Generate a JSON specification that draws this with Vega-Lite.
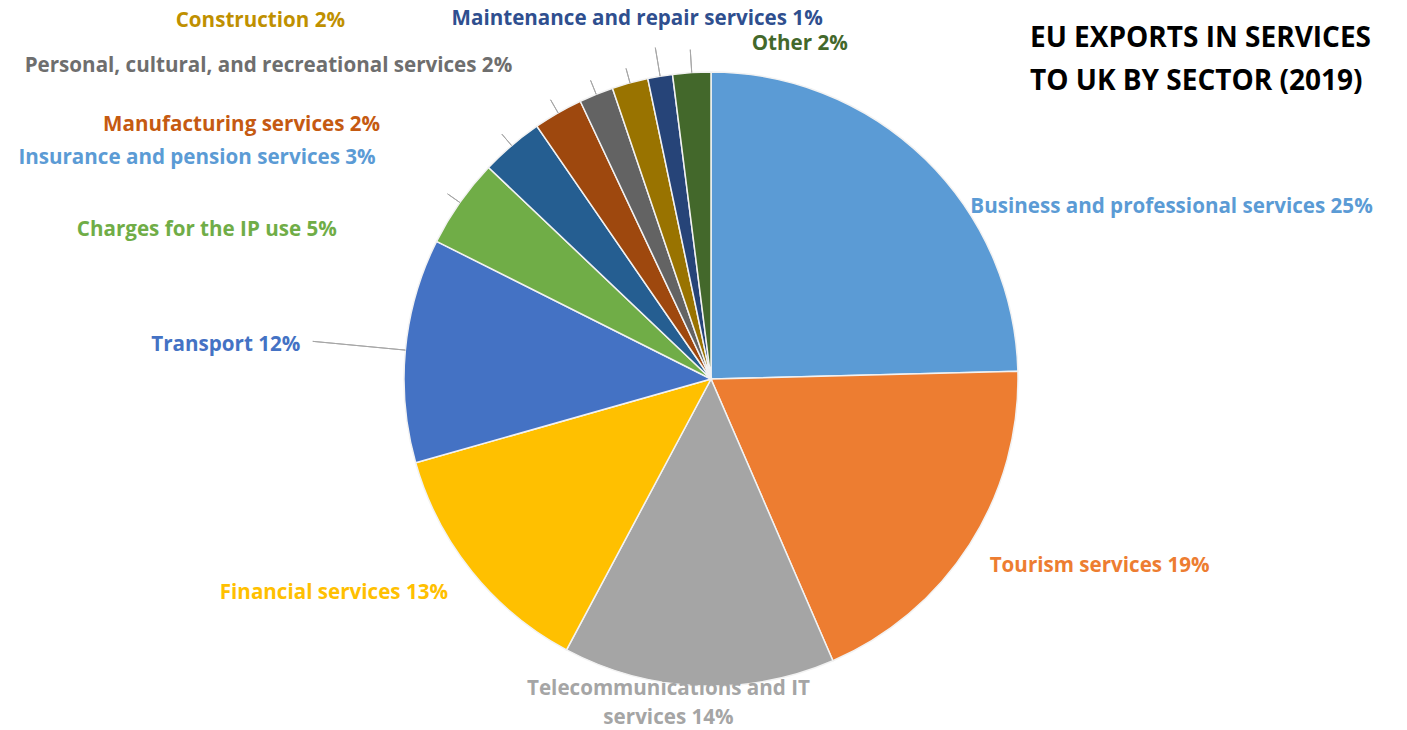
{
  "$schema": "https://vega.github.io/schema/vega-lite/v6.json",
  "width": 1422,
  "height": 758,
  "autosize": "none",
  "padding": 0,
  "background": "white",
  "config": {"view": {"stroke": null}},
  "title": {
    "text": ["EU EXPORTS IN SERVICES", "TO UK BY SECTOR (2019)"],
    "anchor": "start",
    "align": "left",
    "baseline": "top",
    "font": "Open Sans",
    "fontSize": 28,
    "fontWeight": "bold",
    "color": "#000000",
    "lineHeight": 43,
    "offset": -116,
    "dx": 1030
  },
  "data": {
    "values": [
      {"idx": 1, "sector": "Business and professional services", "share": 24.6, "label": "Business and professional services 25%"},
      {"idx": 2, "sector": "Tourism services", "share": 18.9, "label": "Tourism services 19%"},
      {"idx": 3, "sector": "Telecommunications and IT services", "share": 14.3, "label": "Telecommunications and IT\nservices 14%"},
      {"idx": 4, "sector": "Financial services", "share": 12.8, "label": "Financial services 13%"},
      {"idx": 5, "sector": "Transport", "share": 11.8, "label": "Transport 12%"},
      {"idx": 6, "sector": "Charges for the IP use", "share": 4.7, "label": "Charges for the IP use 5%"},
      {"idx": 7, "sector": "Insurance and pension services", "share": 3.3, "label": "Insurance and pension services 3%"},
      {"idx": 8, "sector": "Manufacturing services", "share": 2.6, "label": "Manufacturing services  2%"},
      {"idx": 9, "sector": "Personal, cultural, and recreational services", "share": 1.8, "label": "Personal, cultural, and recreational services 2%"},
      {"idx": 10, "sector": "Construction", "share": 1.9, "label": "Construction 2%"},
      {"idx": 11, "sector": "Maintenance and repair services", "share": 1.3, "label": "Maintenance and repair services  1%"},
      {"idx": 12, "sector": "Other", "share": 2.0, "label": "Other 2%"}
    ]
  },
  "encoding": {
    "theta": {"field": "share", "type": "quantitative", "stack": true},
    "order": {"field": "idx", "type": "quantitative", "sort": "ascending"}
  },
  "layer": [
    {
      "mark": {"type": "arc", "outerRadius": 307, "stroke": "#f2f2f2", "strokeWidth": 1.5},
      "encoding": {
        "color": {
          "field": "sector",
          "type": "nominal",
          "sort": null,
          "legend": null,
          "scale": {
            "domain": ["Business and professional services", "Tourism services", "Telecommunications and IT services", "Financial services", "Transport", "Charges for the IP use", "Insurance and pension services", "Manufacturing services", "Personal, cultural, and recreational services", "Construction", "Maintenance and repair services", "Other"],
            "range": ["#5B9BD5", "#ED7D31", "#A5A5A5", "#FFC000", "#4472C4", "#70AD47", "#255E91", "#9E480E", "#636363", "#997300", "#264478", "#43682B"]
          }
        }
      }
    },
    {
      "mark": {"type": "arc", "innerRadius": 307, "outerRadius": 400, "padAngle": 3, "fill": null, "stroke": "#a6a6a6", "strokeWidth": 1},
      "encoding": {"strokeOpacity": {"condition": {"test": "datum.idx == 5", "value": 1}, "value": 0}}
    },
    {
      "mark": {"type": "arc", "innerRadius": 307, "outerRadius": 322, "padAngle": 3, "fill": null, "stroke": "#a6a6a6", "strokeWidth": 1},
      "encoding": {"strokeOpacity": {"condition": {"test": "datum.idx >= 6 && datum.idx <= 10", "value": 1}, "value": 0}}
    },
    {
      "mark": {"type": "arc", "innerRadius": 307, "outerRadius": 336, "padAngle": 3, "fill": null, "stroke": "#a6a6a6", "strokeWidth": 1},
      "encoding": {"strokeOpacity": {"condition": {"test": "datum.idx == 11", "value": 1}, "value": 0}}
    },
    {
      "mark": {"type": "arc", "innerRadius": 307, "outerRadius": 330, "padAngle": 3, "fill": null, "stroke": "#a6a6a6", "strokeWidth": 1},
      "encoding": {"strokeOpacity": {"condition": {"test": "datum.idx == 12", "value": 1}, "value": 0}}
    },
    {
      "mark": {"type": "text", "radius": 307, "align": "left", "baseline": "middle", "dx": 45, "dy": 48, "font": "Open Sans", "fontSize": 20.6, "fontWeight": "bold", "color": "#5B9BD5"},
      "encoding": {"text": {"condition": {"test": "datum.idx == 1", "field": "label", "type": "nominal"}, "value": ""}}
    },
    {
      "mark": {"type": "text", "radius": 307, "align": "left", "baseline": "middle", "dx": 20, "dy": 22, "font": "Open Sans", "fontSize": 20.6, "fontWeight": "bold", "color": "#ED7D31"},
      "encoding": {"text": {"condition": {"test": "datum.idx == 2", "field": "label", "type": "nominal"}, "value": ""}}
    },
    {
      "mark": {"type": "text", "radius": 307, "align": "center", "baseline": "top", "lineBreak": "\n", "lineHeight": 29, "dx": -30, "dy": -7, "font": "Open Sans", "fontSize": 20.6, "fontWeight": "bold", "color": "#A5A5A5"},
      "encoding": {"text": {"condition": {"test": "datum.idx == 3", "field": "label", "type": "nominal"}, "value": ""}}
    },
    {
      "mark": {"type": "text", "radius": 307, "align": "right", "baseline": "middle", "dx": -24, "dy": 21, "font": "Open Sans", "fontSize": 20.6, "fontWeight": "bold", "color": "#FFC000"},
      "encoding": {"text": {"condition": {"test": "datum.idx == 4", "field": "label", "type": "nominal"}, "value": ""}}
    },
    {
      "mark": {"type": "text", "radius": 307, "align": "right", "baseline": "middle", "dx": -105, "dy": -5, "font": "Open Sans", "fontSize": 20.6, "fontWeight": "bold", "color": "#4472C4"},
      "encoding": {"text": {"condition": {"test": "datum.idx == 5", "field": "label", "type": "nominal"}, "value": ""}}
    },
    {
      "mark": {"type": "text", "radius": 307, "align": "right", "baseline": "middle", "dx": -123, "dy": 28, "font": "Open Sans", "fontSize": 20.6, "fontWeight": "bold", "color": "#70AD47"},
      "encoding": {"text": {"condition": {"test": "datum.idx == 6", "field": "label", "type": "nominal"}, "value": ""}}
    },
    {
      "mark": {"type": "text", "radius": 307, "align": "right", "baseline": "middle", "dx": -136, "dy": 12, "font": "Open Sans", "fontSize": 20.6, "fontWeight": "bold", "color": "#5B9BD5"},
      "encoding": {"text": {"condition": {"test": "datum.idx == 7", "field": "label", "type": "nominal"}, "value": ""}}
    },
    {
      "mark": {"type": "text", "radius": 307, "align": "right", "baseline": "middle", "dx": -178, "dy": 12, "font": "Open Sans", "fontSize": 20.6, "fontWeight": "bold", "color": "#C55A11"},
      "encoding": {"text": {"condition": {"test": "datum.idx == 8", "field": "label", "type": "nominal"}, "value": ""}}
    },
    {
      "mark": {"type": "text", "radius": 307, "align": "right", "baseline": "middle", "dx": -84, "dy": -28, "font": "Open Sans", "fontSize": 20.6, "fontWeight": "bold", "color": "#6E6E6E"},
      "encoding": {"text": {"condition": {"test": "datum.idx == 9", "field": "label", "type": "nominal"}, "value": ""}}
    },
    {
      "mark": {"type": "text", "radius": 307, "align": "right", "baseline": "middle", "dx": -285, "dy": -62, "font": "Open Sans", "fontSize": 20.6, "fontWeight": "bold", "color": "#BF9000"},
      "encoding": {"text": {"condition": {"test": "datum.idx == 10", "field": "label", "type": "nominal"}, "value": ""}}
    },
    {
      "mark": {"type": "text", "radius": 307, "align": "center", "baseline": "middle", "dx": -23, "dy": -57, "font": "Open Sans", "fontSize": 20.6, "fontWeight": "bold", "color": "#2F4F8F"},
      "encoding": {"text": {"condition": {"test": "datum.idx == 11", "field": "label", "type": "nominal"}, "value": ""}}
    },
    {
      "mark": {"type": "text", "radius": 307, "align": "left", "baseline": "middle", "dx": 60, "dy": -29, "font": "Open Sans", "fontSize": 20.6, "fontWeight": "bold", "color": "#43682B"},
      "encoding": {"text": {"condition": {"test": "datum.idx == 12", "field": "label", "type": "nominal"}, "value": ""}}
    }
  ]
}
